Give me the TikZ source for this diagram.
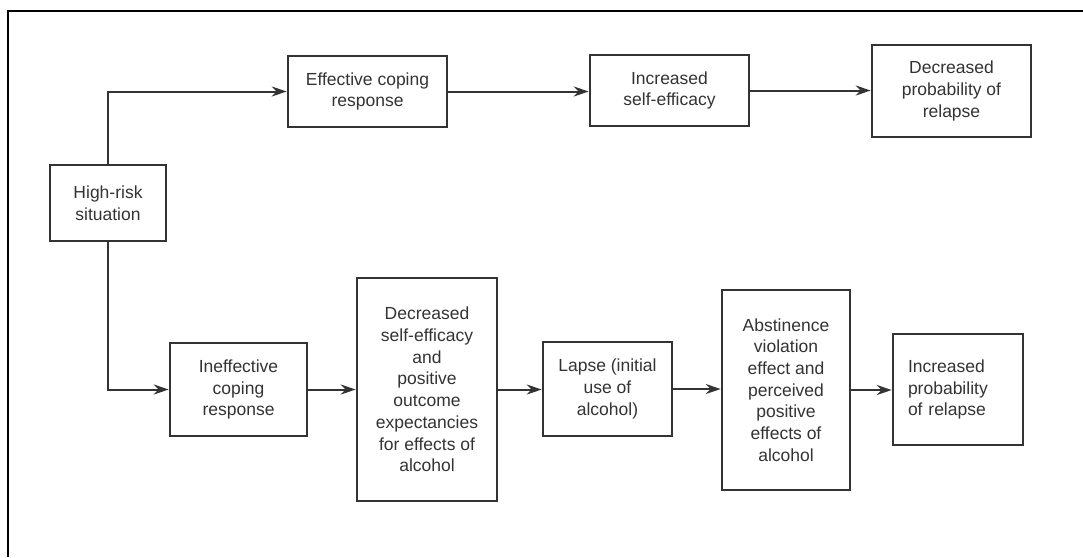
\documentclass[tikz,border=0pt]{standalone}
\usepackage{fontspec}
\setmainfont{Liberation Sans}
\usetikzlibrary{arrows.meta}
\definecolor{boxc}{HTML}{333333}
\definecolor{txtc}{HTML}{333333}
\tikzset{
  flowbox/.style={draw=boxc, line width=2.6pt, inner sep=0pt, align=center, text=txtc,
    font=\fontsize{17.5}{21.7}\selectfont},
  conn/.style={draw=boxc, line width=2pt, -{Stealth[length=15pt,width=10pt]}},
}
\begin{document}
\begin{tikzpicture}[x=1pt,y=-1pt]
\useasboundingbox (0,0) rectangle (1083,557);
\draw[line width=2.2pt, black] (8,557) -- (8,11) -- (1083,11);

\node[flowbox, minimum width=116pt, minimum height=76pt] (hr) at (108,203) {High-risk\\situation};
\node[flowbox, minimum width=159pt, minimum height=71pt] (ecr) at (367.5,91.5) {Effective coping\\response};
\node[flowbox, minimum width=159pt, minimum height=71pt] (ise) at (669.5,90.5) {Increased\\self-efficacy};
\node[flowbox, minimum width=159pt, minimum height=92pt] (dpr) at (951.5,91) {Decreased\\probability of\\relapse};

\node[flowbox, minimum width=137pt, minimum height=93pt] (icr) at (238.5,389.5) {Ineffective\\coping\\response};
\node[flowbox, minimum width=140pt, minimum height=223pt] (dse) at (427,389.5) {Decreased\\self-efficacy\\and\\positive\\outcome\\expectancies\\for effects of\\alcohol};
\node[flowbox, minimum width=129pt, minimum height=94pt] (lap) at (607.5,389) {Lapse (initial\\use of\\alcohol)};
\node[flowbox, minimum width=128pt, minimum height=200pt] (avi) at (786,390) {Abstinence\\violation\\effect and\\perceived\\positive\\effects of\\alcohol};
\node[flowbox, minimum width=130pt, minimum height=111pt, text width=100pt, align=left] (ipr) at (958,389.5) {Increased\\probability\\of relapse};

\draw[conn] (hr.north) |- (ecr.west);
\draw[conn] (hr.south) |- (icr.west);
\draw[conn] (ecr.east) -- (ecr.east -| ise.west);
\draw[conn] (ise.east) -- (ise.east -| dpr.west);
\draw[conn] (icr.east) -- (icr.east -| dse.west);
\draw[conn] (dse.east) -- (dse.east -| lap.west);
\draw[conn] (lap.east) -- (lap.east -| avi.west);
\draw[conn] (avi.east) -- (avi.east -| ipr.west);
\end{tikzpicture}
\end{document}
